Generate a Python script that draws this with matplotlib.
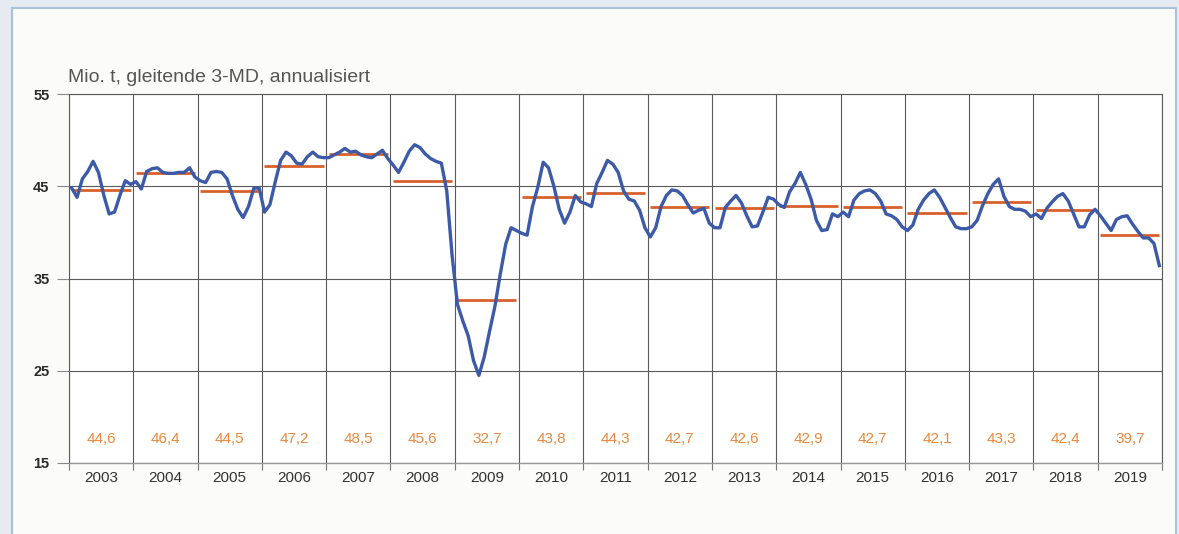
import matplotlib
matplotlib.use("Agg")
import matplotlib.pyplot as plt
from matplotlib.patches import Rectangle
import numpy as np

plt.rcParams['font.family'] = ['Liberation Sans', 'DejaVu Sans']

# Jahre und Jahresdurchschnitte (Mio. t)
years = list(range(2003, 2020))
annual_avg = [44.6, 46.4, 44.5, 47.2, 48.5, 45.6, 32.7, 43.8, 44.3,
              42.7, 42.6, 42.9, 42.7, 42.1, 43.3, 42.4, 39.7]
annual_labels = ["44,6", "46,4", "44,5", "47,2", "48,5", "45,6", "32,7", "43,8", "44,3",
                 "42,7", "42,6", "42,9", "42,7", "42,1", "43,3", "42,4", "39,7"]

# gleitende 3-Monats-Durchschnitte, annualisiert, Jan..Dez je Jahr
ma_2003 = [44.8, 43.8, 45.8, 46.6, 47.7, 46.5, 44.0, 42.0, 42.2, 44.0, 45.6, 45.2]
ma_2004 = [45.5, 44.7, 46.6, 46.9, 47.0, 46.5, 46.4, 46.4, 46.5, 46.5, 47.0, 46.0]
ma_2005 = [45.6, 45.4, 46.5, 46.6, 46.5, 45.8, 44.0, 42.5, 41.6, 42.8, 44.8, 44.8]
ma_2006 = [42.2, 43.0, 45.5, 47.8, 48.7, 48.3, 47.5, 47.4, 48.2, 48.7, 48.2, 48.1]
ma_2007 = [48.1, 48.4, 48.7, 49.1, 48.7, 48.8, 48.4, 48.2, 48.1, 48.5, 48.9, 48.0]
ma_2008 = [47.3, 46.5, 47.6, 48.8, 49.5, 49.2, 48.5, 48.0, 47.7, 47.5, 44.5, 37.5]
ma_2009 = [32.2, 30.4, 28.8, 26.1, 24.5, 26.5, 29.3, 32.0, 35.5, 38.7, 40.5, 40.2]
ma_2010 = [39.9, 39.7, 42.8, 44.9, 47.6, 47.0, 45.0, 42.5, 41.0, 42.2, 44.0, 43.3]
ma_2011 = [43.1, 42.8, 45.3, 46.5, 47.8, 47.4, 46.5, 44.5, 43.6, 43.4, 42.4, 40.5]
ma_2012 = [39.5, 40.5, 42.8, 44.0, 44.6, 44.5, 44.0, 43.0, 42.1, 42.4, 42.6, 41.0]
ma_2013 = [40.5, 40.5, 42.7, 43.4, 44.0, 43.2, 41.8, 40.6, 40.7, 42.2, 43.8, 43.6]
ma_2014 = [43.0, 42.7, 44.4, 45.3, 46.5, 45.2, 43.6, 41.3, 40.2, 40.3, 42.0, 41.7]
ma_2015 = [42.2, 41.7, 43.5, 44.2, 44.5, 44.6, 44.2, 43.4, 42.0, 41.8, 41.4, 40.6]
ma_2016 = [40.2, 40.8, 42.5, 43.5, 44.2, 44.6, 43.8, 42.7, 41.6, 40.6, 40.4, 40.4]
ma_2017 = [40.6, 41.3, 42.9, 44.2, 45.2, 45.8, 43.9, 42.8, 42.5, 42.5, 42.3, 41.7]
ma_2018 = [42.0, 41.5, 42.6, 43.3, 43.9, 44.2, 43.4, 42.0, 40.6, 40.6, 41.9, 42.5]
ma_2019 = [41.8, 41.0, 40.2, 41.4, 41.7, 41.8, 40.9, 40.1, 39.4, 39.4, 38.8, 36.4]

moving_avg = (ma_2003 + ma_2004 + ma_2005 + ma_2006 + ma_2007 + ma_2008 + ma_2009
              + ma_2010 + ma_2011 + ma_2012 + ma_2013 + ma_2014 + ma_2015 + ma_2016
              + ma_2017 + ma_2018 + ma_2019)

yticks = [15, 25, 35, 45, 55]

fig = plt.figure(figsize=(11.79, 5.34), dpi=100, facecolor="#e6ebf1")
# Rahmen wie im Original
fig.patches.append(Rectangle((12 / 1179, -0.01), 1164 / 1179, 1 - 8 / 534 + 0.01,
                             transform=fig.transFigure, facecolor="#fbfbfa",
                             edgecolor="#a8c2dc", linewidth=1.5, zorder=-10))

ax = fig.add_axes([69 / 1179, (534 - 463) / 534, 1093 / 1179, 369 / 534])
ax.set_facecolor("white")

months = np.array([y + (m + 0.5) / 12 for y in years for m in range(12)])
ax.plot(months, moving_avg, color="#3c5aa8", linewidth=2.4, zorder=4)

for yr, avg, lab in zip(years, annual_avg, annual_labels):
    ax.hlines(avg, yr + 0.04, yr + 0.96, color="#d8602a", linewidth=2.0, zorder=3)
    ax.text(yr + 0.5, 17.6, lab, ha="center", va="center", fontsize=11,
            color="#e8893e")

ax.set_xlim(years[0], years[-1] + 1)
ax.set_ylim(15, 55)
ax.set_yticks(yticks)
ax.set_yticklabels([str(v) for v in yticks], fontsize=10.5, color="#2a2a2a",
                   fontweight="bold")
ax.set_xticks(range(years[0], years[-1] + 2))
ax.set_xticklabels([])
ax.set_xticks([y + 0.5 for y in years], minor=True)
ax.set_xticklabels([str(y) for y in years], minor=True, fontsize=11, color="#333333")
ax.tick_params(axis="x", which="major", length=5, color="#777777")
ax.tick_params(axis="x", which="minor", length=0, pad=6)
ax.tick_params(axis="y", length=9, color="#888888", pad=5)

ax.grid(True, which="major", color="#5a5a5a", linewidth=0.8)
ax.set_axisbelow(True)
for side in ["top", "right", "left"]:
    ax.spines[side].set_color("#5a5a5a")
    ax.spines[side].set_linewidth(0.8)
ax.spines["bottom"].set_color("#999999")
ax.spines["bottom"].set_linewidth(1.0)

fig.text(68 / 1179, 1 - 78 / 534, "Mio. t, gleitende 3-MD, annualisiert",
         fontsize=14, color="#555555", va="center", ha="left")

fig.savefig("out.png", dpi=100, facecolor=fig.get_facecolor())
